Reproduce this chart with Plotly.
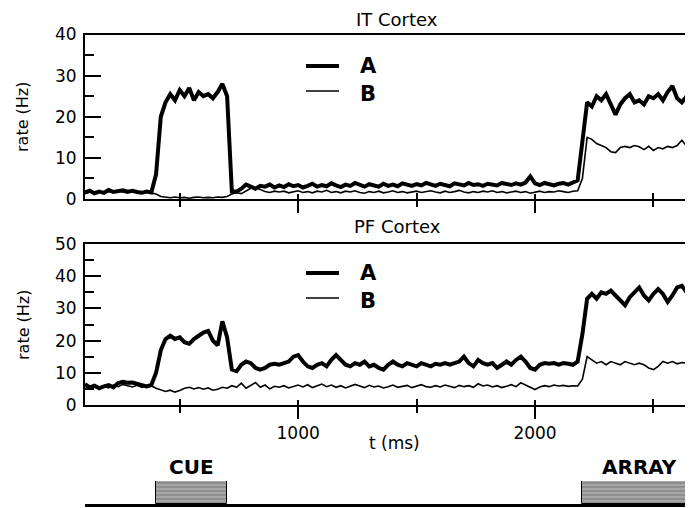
import plotly.graph_objects as go

# ---------------- data ----------------
t_ms = list(range(100, 2701, 20))  # sampling grid (ms)

it_A = [1.6, 2.0, 1.4, 1.8, 1.5, 2.2, 1.7, 1.9, 2.1, 1.8, 2.0, 1.7, 1.5, 1.8, 1.6,
        6.0, 20.0, 23.5, 25.5, 24.0, 26.5, 25.0, 27.0, 24.0, 26.0, 25.0, 25.5, 24.5, 26.0, 28.0, 25.0,
        1.8, 1.8, 2.5, 3.5, 3.0, 2.5, 3.2, 3.0, 3.5, 2.8,
        3.3, 2.9, 3.6, 3.1, 3.4, 2.8, 3.2, 3.7, 3.0, 3.4, 3.1, 3.8, 3.3, 2.9, 3.5, 3.2,
        3.9, 3.4, 3.0, 3.6, 3.3, 3.0, 3.7, 3.2, 3.5, 3.1, 3.8, 3.4, 3.2, 3.6, 3.3, 3.9,
        3.5, 3.2, 3.7, 3.4, 3.1, 3.8, 3.5, 3.3, 3.9, 3.4, 3.6, 3.2, 3.7, 3.5, 3.3, 3.9,
        3.6, 3.4, 3.8, 3.5, 4.0, 5.5, 3.8, 3.4, 3.9, 3.6, 3.3, 3.7, 3.9, 3.5, 4.0, 4.5,
        14.0, 23.5, 22.5, 25.0, 24.0, 25.5, 23.0, 20.5, 23.0, 24.5, 25.5, 23.5, 24.0,
        23.0, 25.0, 24.5, 25.5, 24.0, 26.0, 27.5, 24.5, 23.5, 25.0, 24.0, 23.5, 24.0]

it_B = [1.3, 1.7, 1.5, 1.9, 1.4, 1.8, 1.6, 2.0, 1.7, 1.5, 1.9, 1.6, 1.4, 1.7, 1.5,
        1.2, 0.6, 0.4, 0.3, 0.5, 0.3, 0.4, 0.2, 0.4, 0.5, 0.3, 0.4, 0.3, 0.5, 0.4, 0.6,
        1.2, 1.5, 1.3, 2.0, 2.6, 2.8, 2.2, 1.8, 1.6, 1.9,
        1.7, 1.9, 1.5, 1.8, 2.0, 1.6, 1.8, 1.5, 1.9, 1.7, 2.1, 1.6, 1.8, 1.5, 1.9, 1.7,
        2.0, 1.6, 1.4, 1.8, 1.6, 1.9, 1.5, 1.7, 2.0, 1.6, 1.8, 1.5, 1.7, 1.9, 1.6, 1.8,
        2.0, 1.7, 1.5, 1.9, 1.6, 1.8, 2.1, 1.7, 1.5, 1.8, 1.6, 1.9, 1.7, 2.0, 1.6, 1.8,
        1.5, 1.7, 1.9, 1.6, 1.8, 1.4, 1.7, 1.9, 1.6, 1.8, 1.7, 2.0, 1.8, 1.6, 1.9, 2.0,
        5.0, 15.0, 14.5, 13.5, 13.0, 12.5, 11.5, 11.3, 12.5, 12.8, 12.5, 13.0, 12.7,
        12.0, 12.8, 11.8, 12.5, 12.2, 12.8, 12.5, 13.0, 14.3, 12.8, 12.5, 13.0, 12.8]

pf_A = [6.5, 5.5, 6.0, 5.2, 5.8, 6.2, 5.5, 6.8, 7.2, 6.9, 7.0, 6.5, 6.0, 5.8, 6.2,
        10.0, 17.0, 20.5, 21.5, 20.5, 21.0, 19.5, 19.0, 20.5, 21.5, 22.5, 23.0, 20.0, 18.5, 26.0, 21.0,
        11.0, 10.5, 12.5, 13.5, 13.0, 11.5, 11.0, 11.5, 12.5, 12.8,
        12.5, 13.0, 13.5, 15.0, 15.5, 13.5, 12.0, 11.5, 12.5, 13.0, 12.0, 14.0, 15.5, 14.0, 12.5, 12.0,
        13.0, 12.5, 13.5, 12.0, 12.5, 11.5, 11.0, 12.5, 13.5, 12.5, 12.0, 13.0, 12.5, 12.0, 13.0, 12.5,
        12.0, 12.8, 12.5, 13.0, 12.5, 13.0, 13.5, 15.0, 13.0, 12.0, 14.0, 13.0, 12.5, 13.0, 11.5, 12.5,
        13.5, 12.5, 14.0, 15.0, 13.5, 11.5, 11.0, 12.5, 13.0, 12.8, 13.0, 12.5, 13.0, 12.8, 12.5, 13.5,
        22.0, 33.0, 34.5, 33.0, 35.0, 34.5, 35.5, 34.0, 32.5, 31.0, 33.5, 35.0, 36.5,
        34.0, 32.5, 34.5, 36.0, 34.5, 32.0, 34.0, 36.5, 37.0, 35.0, 34.5, 35.5, 34.5]

pf_B = [5.8, 5.2, 6.0, 5.5, 5.9, 5.3, 6.2, 5.7, 6.4, 6.0, 5.6, 6.1, 5.5, 5.9, 6.0,
        5.2, 4.8, 4.2, 4.6, 4.0, 4.5, 5.2, 5.5, 5.0, 5.4, 4.9, 5.3, 4.6, 4.9, 5.5, 5.2,
        6.0, 5.5, 6.8, 5.2, 6.0, 7.0, 5.5, 6.2, 5.0, 5.8,
        5.5, 6.0, 5.3, 5.8, 6.2, 5.6, 6.3, 5.4, 5.9, 6.5, 5.7, 6.2, 5.5, 6.0, 5.3, 5.8,
        6.4, 5.9, 5.4, 6.1, 5.6, 5.9, 5.3, 5.7, 6.2, 5.5, 5.9, 6.1, 5.4, 5.8, 6.3, 5.7,
        5.5, 6.0, 5.6, 6.2, 5.9, 5.4, 6.1, 5.7, 6.0, 5.5, 6.6, 5.9, 6.2, 5.6, 6.0, 5.4,
        5.8, 6.3, 5.7, 6.9, 6.2, 5.5, 4.8, 5.6, 6.0, 5.7, 6.2, 5.9, 6.1, 5.8, 6.0, 5.9,
        8.0, 15.0, 14.0, 13.0, 13.5, 12.5, 13.5, 13.0, 12.5, 13.5, 13.0, 12.5, 13.0,
        12.5, 11.5, 11.0, 12.0, 13.5, 13.0, 13.5, 12.8, 13.2, 13.0, 13.5, 13.0, 13.2]

series_names = ["A", "B"]
panel_titles = ["IT Cortex", "PF Cortex"]
events = ["CUE", "ARRAY"]
event_onset = [400, 2200]
event_duration = [300, 520]
event_label_t = [550, 2440]
x_tick_vals = [1000, 2000]
x_tick_text = ["1000", "2000"]

# ---------------- layout helpers ----------------
# the page body adds an 8px offset; positions below are given in window pixels
OFF = 8
W, H = 693 - OFF, 508 - OFF
def px_x(p):
    return (p - OFF) / W
def px_y(p):
    return 1 - (p - OFF) / H

X_RANGE = [100, 2667]
x_dom = [px_x(85), 1.0]
top_dom = [px_y(199), px_y(34.5)]
bot_dom = [px_y(405), px_y(244)]
evt_dom = [px_y(504), px_y(481)]

FONT = "DejaVu Sans"
fig = go.Figure()

# data traces
for (xa, ya, a_vals, b_vals) in [("x", "y", it_A, it_B), ("x2", "y2", pf_A, pf_B)]:
    fig.add_trace(go.Scatter(x=t_ms, y=a_vals, mode="lines", name=series_names[0],
                             line=dict(color="black", width=4), xaxis=xa, yaxis=ya,
                             showlegend=False))
    fig.add_trace(go.Scatter(x=t_ms, y=b_vals, mode="lines", name=series_names[1],
                             line=dict(color="black", width=1.6), xaxis=xa, yaxis=ya,
                             showlegend=False))

# event boxes
fig.add_trace(go.Bar(y=[0.5, 0.5], x=event_duration, base=event_onset, orientation="h",
                     width=1, xaxis="x3", yaxis="y3", showlegend=False,
                     marker=dict(color="#999999", line=dict(color="black", width=1),
                                 pattern=dict(shape="-", fgcolor="#6a6a6a", bgcolor="#a6a6a6",
                                              size=4, solidity=0.4))))

# dummy traces on overlay axes so they render
for xa, ya in [("x4", "y4"), ("x5", "y5")]:
    fig.add_trace(go.Scatter(x=[None], y=[None], xaxis=xa, yaxis=ya, showlegend=False,
                             hoverinfo="skip"))

tick_font = dict(family=FONT, size=17, color="black")

def xaxis_main(anchor, labels):
    return dict(domain=x_dom, anchor=anchor, range=X_RANGE, showline=True, linewidth=2,
                linecolor="black", mirror=True, ticks="outside", ticklen=12, tickwidth=2,
                tickcolor="black", tickvals=x_tick_vals + [3000], ticktext=x_tick_text + [""],
                showticklabels=labels, tickfont=tick_font, showgrid=False, zeroline=False,
                automargin=False,
                minor=dict(ticks="outside", ticklen=6, tickwidth=2, tickcolor="black",
                           dtick=500, tick0=0, showgrid=False))

def xaxis_overlay(over, anchor):
    return dict(domain=x_dom, overlaying=over, anchor=anchor, range=X_RANGE, showline=False,
                ticks="inside", ticklen=5, tickwidth=2, tickcolor="black", tick0=0, dtick=1000,
                showticklabels=False, showgrid=False, zeroline=False, automargin=False,
                minor=dict(ticks="inside", ticklen=6, tickwidth=2, tickcolor="black",
                           dtick=500, tick0=0, showgrid=False))

def yaxis_main(dom, anchor, top):
    return dict(domain=dom, anchor=anchor, range=[0, top], showline=True, linewidth=2,
                linecolor="black", ticks="inside", ticklen=16, tickwidth=2, tickcolor="black",
                dtick=10, tick0=0, tickfont=tick_font, ticklabelstandoff=3,
                showgrid=False, zeroline=False, automargin=False,
                minor=dict(ticks="inside", ticklen=9, tickwidth=2, tickcolor="black",
                           dtick=5, tick0=0, showgrid=False))

def yaxis_right(dom, over, anchor, top):
    return dict(domain=dom, overlaying=over, anchor=anchor, side="right", range=[0, top],
                showline=False, ticks="inside", ticklen=8, tickwidth=2, tickcolor="black",
                dtick=10, tick0=0, showticklabels=False, showgrid=False, zeroline=False,
                automargin=False)

annotations = []
# panel titles
for title, ypx in zip(panel_titles, [19, 227]):
    annotations.append(dict(text=title, x=px_x(397), y=px_y(ypx), xref="paper", yref="paper",
                            showarrow=False, xanchor="center", yanchor="middle", borderpad=0,
                            font=dict(family=FONT, size=18, color="black")))
# y-axis titles
for ypx in [117, 325]:
    annotations.append(dict(text="rate (Hz)", x=px_x(23), y=px_y(ypx), xref="paper",
                            yref="paper", showarrow=False, textangle=-90,
                            xanchor="center", yanchor="middle",
                            font=dict(family=FONT, size=16, color="black")))
# x-axis title
annotations.append(dict(text="t (ms)", x=px_x(395), y=px_y(443), xref="paper", yref="paper",
                        showarrow=False, xanchor="center", yanchor="middle",
                        font=dict(family=FONT, size=17, color="black")))
# event labels
for name, tl in zip(events, event_label_t):
    annotations.append(dict(text="<b>%s</b>" % name, x=tl, y=px_y(467), xref="x3",
                            yref="paper", showarrow=False, xanchor="center",
                            yanchor="middle", font=dict(family=FONT, size=20, color="black")))

# legends (line samples + letters)
shapes = []
for (ya_px, yb_px) in [((66, 66), (91, 94)), ((273, 273), (298, 301))]:
    for name, (line_y, text_y), w in zip(series_names, [ya_px, yb_px], [4, 1.6]):
        shapes.append(dict(type="line", xref="paper", yref="paper", x0=px_x(306),
                           x1=px_x(339), y0=px_y(line_y), y1=px_y(line_y),
                           line=dict(color="black", width=w)))
        annotations.append(dict(text="<b>%s</b>" % name, x=px_x(368), y=px_y(text_y),
                                xref="paper", yref="paper", showarrow=False,
                                xanchor="center", yanchor="middle", borderpad=0,
                                font=dict(family=FONT, size=21, color="black")))

fig.update_layout(
    width=W, height=H, margin=dict(l=0, r=0, t=0, b=0, autoexpand=False),
    paper_bgcolor="white", plot_bgcolor="white", showlegend=False,
    xaxis=xaxis_main("y", False),
    xaxis2=xaxis_main("y2", True),
    xaxis3=dict(domain=x_dom, anchor="y3", range=X_RANGE, showline=True, linewidth=3,
                linecolor="black", ticks="", showticklabels=False, showgrid=False,
                zeroline=False, automargin=False),
    xaxis4=xaxis_overlay("x", "y"),
    xaxis5=xaxis_overlay("x2", "y2"),
    yaxis=yaxis_main(top_dom, "x", 40),
    yaxis2=yaxis_main(bot_dom, "x2", 50),
    yaxis3=dict(domain=evt_dom, anchor="x3", range=[0, 1], showline=False, ticks="",
                showticklabels=False, showgrid=False, zeroline=False, automargin=False),
    yaxis4=yaxis_right(top_dom, "y", "x", 40),
    yaxis5=yaxis_right(bot_dom, "y2", "x2", 50),
    annotations=annotations, shapes=shapes, bargap=0,
)

fig.write_html("out.html", config={"displayModeBar": False})
